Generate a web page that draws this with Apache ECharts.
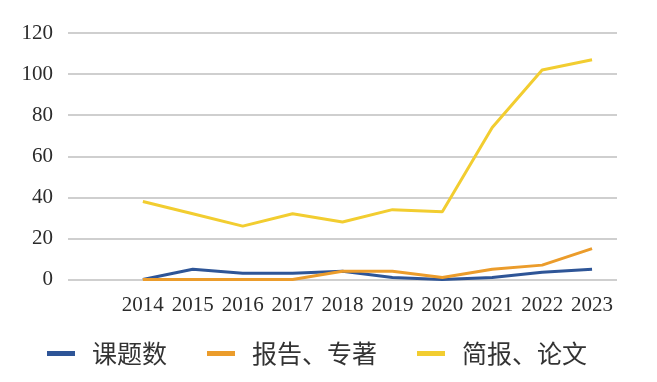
<!DOCTYPE html>
<html><head><meta charset="utf-8">
<script src="https://cdn.jsdelivr.net/npm/echarts@6/dist/echarts.min.js"></script>
<style>html,body{margin:0;padding:0;background:#fff}#c{width:657px;height:382px}</style>
</head><body><div id="c"></div>
<script>
// leading empty category reproduces the blank slot before 2014
const categories = ['', '2014', '2015', '2016', '2017', '2018', '2019', '2020', '2021', '2022', '2023'];
const seriesNames = ['课题数', '报告、专著', '简报、论文'];
const topics = [null, 0, 5, 3, 3, 4, 1, 0, 1, 3.5, 5];
const reports = [null, 0, 0, 0, 0, 4, 4, 1, 5, 7, 15];
const papers = [null, 38, 32, 26, 32, 28, 34, 33, 74, 102, 107];
const yTicks = [0, 20, 40, 60, 80, 100, 120];
const colors = ['#2e5597', '#eb9c2b', '#f2cd30'];

const chart = echarts.init(document.getElementById('c'));
const mk = (name, data, color) => ({
  name, type: 'line', data, showSymbol: false, symbol: 'none',
  lineStyle: { width: 3, color }, itemStyle: { color }, connectNulls: false
});
chart.setOption({
  animation: false,
  grid: { left: 68, right: 40, top: 33, bottom: 102.5, containLabel: false },
  legend: {
    left: 42, top: 336, icon: 'rect', itemWidth: 28, itemHeight: 5, itemGap: 40,
    textStyle: { fontFamily: 'Noto Sans CJK SC', fontSize: 25, color: '#333', padding: [0, 0, 0, 12] },
    data: seriesNames
  },
  xAxis: {
    type: 'category', data: categories, boundaryGap: true,
    axisLine: { show: false }, axisTick: { show: false },
    axisLabel: { interval: 0, margin: 15, fontFamily: 'Liberation Serif', fontSize: 21, color: '#2b2b2b' }
  },
  yAxis: {
    type: 'value', min: yTicks[0], max: yTicks[yTicks.length - 1], interval: 20,
    axisLine: { show: false }, axisTick: { show: false },
    axisLabel: { margin: 15, fontFamily: 'Liberation Serif', fontSize: 21, color: '#2b2b2b' },
    splitLine: { lineStyle: { color: '#bfbfbf', width: 1.5 } }
  },
  series: [mk(seriesNames[0], topics, colors[0]), mk(seriesNames[1], reports, colors[1]), mk(seriesNames[2], papers, colors[2])]
});
</script></body></html>
